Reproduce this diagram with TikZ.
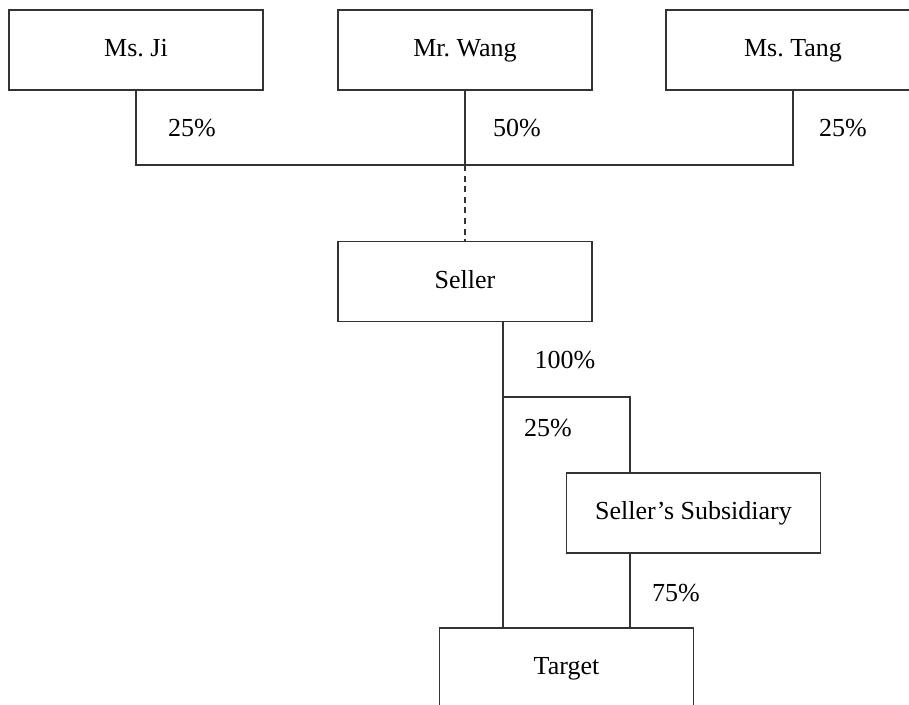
\documentclass[tikz,border=0pt]{standalone}
\usepackage{fontspec}
\setmainfont{Liberation Serif}
\usetikzlibrary{positioning}
\frenchspacing

\begin{document}
\begin{tikzpicture}[x=0.5pt,y=-0.5pt,
		party/.style={draw=black!80,line width=0.6pt,minimum width=127pt,minimum height=40pt,inner sep=0pt,text height=0.66em,text depth=0pt,font=\fontsize{13}{15}\selectfont},
		share/.style={inner sep=0pt,text height=0.66em,text depth=0pt,font=\fontsize{13}{15}\selectfont},
		link/.style={draw=black!80,line width=0.6pt}]
		\useasboundingbox (0,0) rectangle (909,705);
		% shareholders
		\node[party] (ji)   at (136,50) {Ms. Ji};
		\node[party] (wang) at (465,50) {Mr. Wang};
		\node[party] (tang) at (793,50) {Ms. Tang};
		\coordinate (join) at (465,165);
		
		\node[party] (seller) at (465,281.5) {Seller};
		\node[party] (sub)    at (693.5,513) {Seller's Subsidiary};
		\node[party] (target) at (566.5,668) {Target};
		\coordinate (split)  at (503,397);
		\coordinate (branch) at (630,397);
		
		\draw[link] (ji.south) |- (join) -| (tang.south);
		\draw[link] (wang.south) -- (join);
		\draw[link,dash pattern=on 3pt off 2.3pt] (join) -- (seller.north);
		\draw[link] (seller.south -| split) -- (split) -- (split |- target.north);
		\draw[link] (split) -- (branch) -- (branch |- sub.north);
		\draw[link] (sub.south -| branch) -- (branch |- target.north);
		
		% percentages
		\node[share] (p_ji)     at (192,130) {25\%};
		\node[share] (p_wang)   at (517,130) {50\%};
		\node[share] (p_tang)   at (843,130) {25\%};
		\node[share] (p_seller) at (565,362) {100\%};
		\node[share] (p_direct) at (548,430) {25\%};
		\node[share] (p_sub)    at (676,595) {75\%};
	\end{tikzpicture}
\end{document}
